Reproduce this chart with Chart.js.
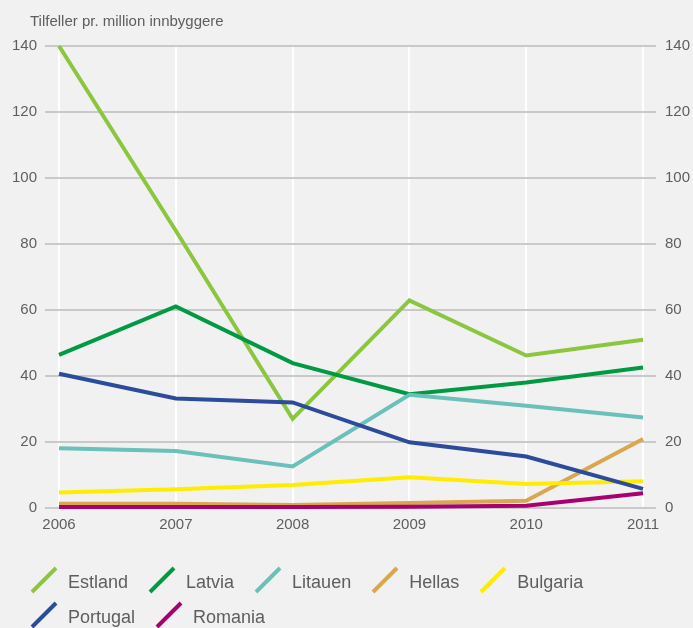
<!DOCTYPE html>
<html lang="no">
<head>
<meta charset="utf-8">
<title>Tilfeller pr. million innbyggere</title>
<script src="https://cdn.jsdelivr.net/npm/chart.js@4/dist/chart.umd.min.js"></script>
<style>
  html, body { margin: 0; padding: 0; background: #f1f1f1; }
  #wrap { position: relative; width: 693px; height: 628px; overflow: hidden; font-family: 'Liberation Sans', Arial, sans-serif; color: #5e5e5e; }
  #chart { position: absolute; left: 0; top: 0; }
  #unit { position: absolute; left: 30px; top: 11px; font-size: 15px; line-height: 20px; white-space: nowrap; }
  #legend { position: absolute; left: 31px; top: 566px; right: 0; display: flex; flex-wrap: wrap; row-gap: 8px; }
  .item { display: flex; align-items: center; margin-right: 21px; height: 27px; font-size: 18px; white-space: nowrap; }
  .item .name { position: relative; top: 3px; }
  .mark { position: relative; width: 26px; height: 27px; margin-right: 11px; }
  .mark span { position: absolute; left: -4px; top: 11.5px; width: 34px; height: 4px; transform: rotate(-45deg); }
</style>
</head>
<body>
<div id="wrap">
  <canvas id="chart" width="693" height="628"></canvas>
  <div id="unit">Tilfeller pr. million innbyggere</div>
  <div id="legend"></div>
</div>
<script>
// Cases per million inhabitants, 2006–2011
const years = [2006, 2007, 2008, 2009, 2010, 2011];
const countries = ['Estland', 'Latvia', 'Litauen', 'Hellas', 'Bulgaria', 'Portugal', 'Romania'];

const estland  = [140, 84, 27, 62.9, 46.2, 51];
const latvia   = [46.4, 61.1, 43.9, 34.5, 38, 42.6];
const litauen  = [18.1, 17.3, 12.6, 34.3, 31, 27.4];
const hellas   = [1.3, 1.3, 0.9, 1.5, 2.2, 20.9];
const bulgaria = [4.7, 5.7, 7.0, 9.3, 7.3, 8.1];
const portugal = [40.7, 33.2, 32, 19.9, 15.6, 5.8];
const romania  = [0.3, 0.3, 0.3, 0.4, 0.7, 4.5];

const yTicks = [0, 20, 40, 60, 80, 100, 120, 140];

const seriesValues = [estland, latvia, litauen, hellas, bulgaria, portugal, romania];
const colors = ['#8cc63e', '#009a44', '#6ac1b9', '#d9a74f', '#ffec00', '#2c4b9b', '#a8006f'];

const datasets = countries.map((name, i) => ({
  label: name,
  data: years.map((yr, j) => ({ x: yr, y: seriesValues[i][j] })),
  borderColor: colors[i],
  backgroundColor: colors[i],
  borderWidth: 4,
  pointRadius: 0,
  pointHoverRadius: 0,
  tension: 0,
  fill: false,
  clip: 8,
  order: countries.length - i
}));

const textColor = '#5e5e5e';
const tickFont = { family: "'Liberation Sans', Arial, sans-serif", size: 15 };

const yAxisBase = {
  type: 'linear',
  min: 0,
  max: 140,
  afterBuildTicks: (axis) => { axis.ticks = yTicks.map(v => ({ value: v })); },
  border: { display: false },
  ticks: { color: textColor, font: tickFont }
};

const chart = new Chart(document.getElementById('chart'), {
  type: 'line',
  data: { datasets },
  options: {
    responsive: false,
    animation: false,
    events: [],
    layout: { padding: { top: 46, left: 0, right: 0, bottom: 0 } },
    plugins: { legend: { display: false }, tooltip: { enabled: false }, title: { display: false } },
    scales: {
      x: {
        type: 'linear',
        min: 2005.88,
        max: 2011.111,
        afterBuildTicks: (axis) => { axis.ticks = years.map(v => ({ value: v })); },
        afterFit: (s) => { s.height = 120; },
        border: { display: false },
        grid: { color: '#ffffff', lineWidth: 2, drawTicks: false },
        ticks: { color: textColor, font: tickFont, padding: 8, maxRotation: 0, callback: (v) => String(v) }
      },
      y: Object.assign({}, yAxisBase, {
        position: 'left',
        afterFit: (s) => { s.width = 45; },
        grid: { color: '#c9c9c9', lineWidth: 2, drawTicks: false },
        ticks: Object.assign({}, yAxisBase.ticks, { padding: 8 })
      }),
      y2: Object.assign({}, yAxisBase, {
        position: 'right',
        afterFit: (s) => { s.width = 37; },
        grid: { display: false, drawTicks: false },
        ticks: Object.assign({}, yAxisBase.ticks, { padding: 9 })
      })
    }
  }
});

// Legend built from the chart's datasets
const legend = document.getElementById('legend');
chart.data.datasets.forEach(ds => {
  const item = document.createElement('div');
  item.className = 'item';
  const mark = document.createElement('div');
  mark.className = 'mark';
  const bar = document.createElement('span');
  bar.style.background = ds.borderColor;
  mark.appendChild(bar);
  const txt = document.createElement('span');
  txt.className = 'name';
  txt.textContent = ds.label;
  item.appendChild(mark);
  item.appendChild(txt);
  legend.appendChild(item);
});
</script>
</body>
</html>
